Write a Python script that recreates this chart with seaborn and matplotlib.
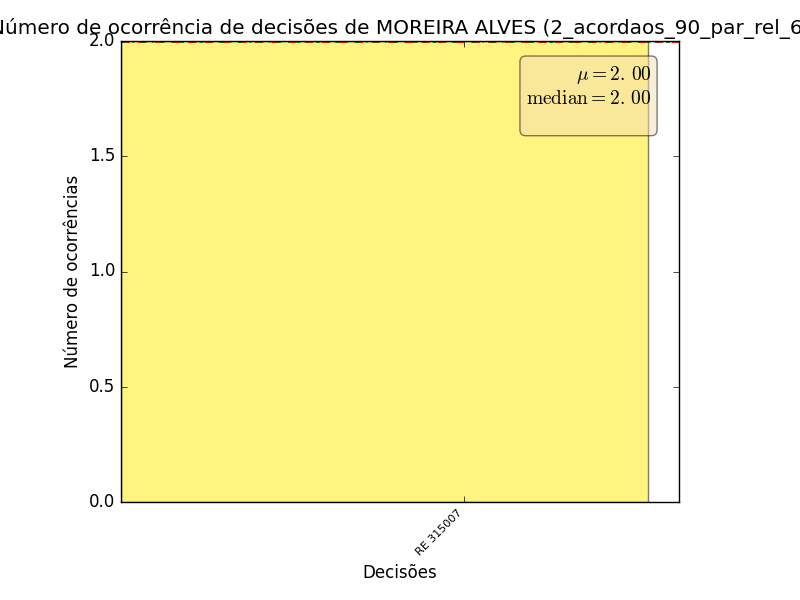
import numpy as np
import matplotlib
matplotlib.use("Agg")
import matplotlib.pyplot as plt
import seaborn as sns

# data
decisoes = ["RE 315007"]
ocorrencias = [2]
relator = "MOREIRA ALVES"
arquivo = "2_acordaos_90_par_rel_6"

plt.style.use("classic")
plt.rcParams["mathtext.fontset"] = "cm"

media = np.mean(ocorrencias)
mediana = np.median(ocorrencias)

fig = plt.figure(figsize=(8, 6), dpi=100)
ax = fig.add_axes([0.151, 0.163, 0.698, 0.769])

sns.barplot(x=decisoes, y=ocorrencias, ax=ax, color="#ffeb00", saturation=1,
            alpha=0.5, edgecolor="black", linewidth=1, width=0.8)

ax.axhline(media, color="r", linestyle="--", linewidth=2)
ax.axhline(mediana, color="g", linestyle="-.", linewidth=2)

ax.set_xlim(-0.4, 0.447)
ax.set_ylim(0, 2)
ax.set_yticks(np.arange(0, 2.01, 0.5))
ax.set_xticks(np.arange(len(decisoes)) + 0.12)
ax.set_xticklabels(decisoes, rotation=45, ha="right", fontsize=8)

ax.set_title("Número de ocorrência de decisões de %s (%s)" % (relator, arquivo), fontsize="large")
ax.set_xlabel("Decisões")
ax.set_ylabel("Número de ocorrências")

def fmt(v):
    # old mathtext put a gap after the decimal point
    return ("%.2f" % v).replace(".", ".\\,")

textstr = "$\\mu=%s$\n$\\mathrm{median}=%s$\n" % (fmt(media), fmt(mediana))
props = dict(boxstyle="round", facecolor="wheat", alpha=0.5)
ax.text(0.95, 0.95, textstr, transform=ax.transAxes, fontsize=14,
        va="top", ha="right", multialignment="right", bbox=props)

fig.savefig("out.png", dpi=100)
